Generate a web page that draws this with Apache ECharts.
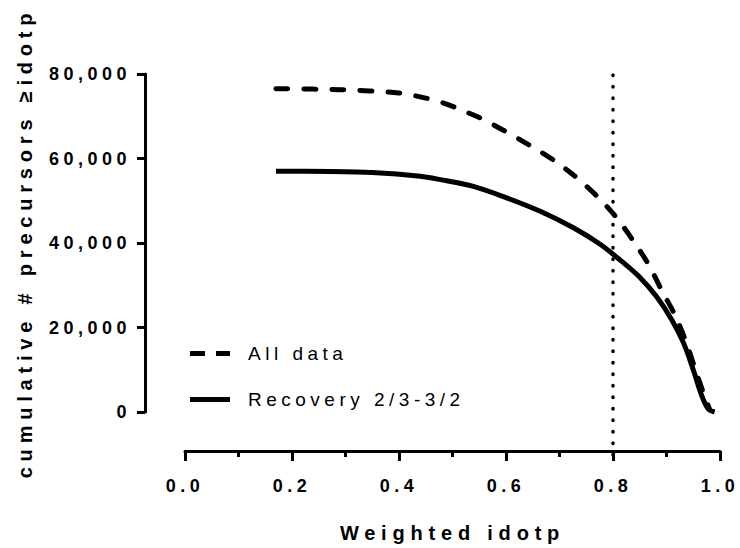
<!DOCTYPE html>
<html>
<head>
<meta charset="utf-8">
<script src="https://cdn.jsdelivr.net/npm/echarts@6/dist/echarts.min.js"></script>
<style>
  html, body { margin: 0; padding: 0; background: #fff; }
  #chart { width: 740px; height: 548px; }
  /* letter spacing, picked by font size */
  #chart text[style*="18px"] { letter-spacing: 4.5px; }
  #chart text[style*="19px"] { letter-spacing: 4.5px; }
  #chart text[style*="20px"] { letter-spacing: 5.8px; }
</style>
</head>
<body>
<div id="chart"></div>
<script>
// All data (dashed)
var allX = [0.17, 0.29, 0.40, 0.45, 0.486, 0.548, 0.595, 0.642, 0.688, 0.729, 0.77, 0.804, 0.838, 0.866, 0.891, 0.916, 0.935, 0.953, 0.969, 0.981];
var allY = [76500, 76300, 75500, 74300, 73000, 69800, 66700, 63300, 59700, 55800, 51100, 46400, 40500, 35000, 28800, 22900, 17100, 10400, 4500, 500];
// Recovery 2/3-3/2 (solid)
var recX = [0.17, 0.27, 0.35, 0.44, 0.477, 0.539, 0.601, 0.664, 0.726, 0.776, 0.813, 0.85, 0.882, 0.91, 0.932, 0.95, 0.966, 0.978, 0.99];
var recY = [57000, 56950, 56700, 55800, 55000, 53400, 50700, 47500, 43600, 39700, 36000, 31900, 27200, 21800, 16300, 10000, 3800, 700, 0];
// cutoff line
var cutoff = 0.8;

var font = '"Liberation Sans", Arial, sans-serif';

function pairs(xs, ys) {
  return xs.map(function (x, i) { return [x, ys[i]]; });
}

var chart = echarts.init(document.getElementById('chart'), null, { renderer: 'svg' });

var option = {
  animation: false,
  textStyle: { fontFamily: font, color: '#000' },
  grid: [
    { left: 185, right: 20, top: 74, bottom: 132 },
    { left: 185, right: 20, top: 68, bottom: 93 }
  ],
  legend: {
    orient: 'vertical',
    left: 185,
    top: 339,
    itemWidth: 40,
    itemHeight: 5,
    itemGap: 27,
    textStyle: { fontFamily: font, fontSize: 19, color: '#000', padding: [0, 0, 0, 13] },
    data: [
      { name: 'All data', icon: 'path://M0,0H15V5H0Z M26,0H40V5H26Z' },
      { name: 'Recovery 2/3-3/2', icon: 'path://M0,0H40V5H0Z' }
    ]
  },
  xAxis: [{
    type: 'value',
    gridIndex: 0,
    min: 0,
    max: 1,
    interval: 0.2,
    offset: 39,
    name: 'Weighted idotp',
    nameLocation: 'middle',
    nameGap: 72,
    nameTextStyle: { fontFamily: font, fontSize: 20, fontWeight: 'bold', color: '#000' },
    axisLine: { onZero: false, lineStyle: { color: '#000', width: 3 } },
    axisTick: { length: 10, lineStyle: { color: '#000', width: 3 } },
    minorTick: { show: true, splitNumber: 2, length: 6, lineStyle: { color: '#000', width: 3 } },
    splitLine: { show: false },
    axisLabel: {
      margin: 26,
      fontFamily: font, fontSize: 18, fontWeight: 'bold', color: '#000',
      formatter: function (v) { return v.toFixed(1); }
    }
  }, {
    type: 'value', gridIndex: 1, min: 0, max: 1, show: false
  }],
  yAxis: [{
    type: 'value',
    gridIndex: 0,
    min: 0,
    max: 80000,
    interval: 20000,
    offset: 40,
    name: 'cumulative # precursors \u2265idotp',
    nameLocation: 'middle',
    nameGap: 110,
    nameTextStyle: { fontFamily: font, fontSize: 20, fontWeight: 'bold', color: '#000' },
    axisLine: { show: true, onZero: false, lineStyle: { color: '#000', width: 3 } },
    axisTick: { show: true, length: 8, lineStyle: { color: '#000', width: 3 } },
    splitLine: { show: false },
    axisLabel: {
      margin: 14,
      fontFamily: font, fontSize: 18, fontWeight: 'bold', color: '#000',
      formatter: function (v) { return v.toLocaleString('en-US'); }
    }
  }, {
    type: 'value', gridIndex: 1, min: 0, max: 1, show: false
  }],
  series: [{
    name: 'All data',
    type: 'line',
    xAxisIndex: 0, yAxisIndex: 0,
    data: pairs(allX, allY),
    smooth: 0.3,
    symbol: 'none',
    color: '#000',
    lineStyle: { color: '#000', width: 5, type: [12, 16], cap: 'round' }
  }, {
    name: 'Recovery 2/3-3/2',
    type: 'line',
    xAxisIndex: 0, yAxisIndex: 0,
    data: pairs(recX, recY),
    smooth: 0.3,
    symbol: 'none',
    color: '#000',
    lineStyle: { color: '#000', width: 5 }
  }, {
    name: 'cutoff',
    type: 'line',
    xAxisIndex: 1, yAxisIndex: 1,
    data: [[cutoff, 0], [cutoff, 1]],
    symbol: 'none',
    silent: true,
    lineStyle: { color: '#000', width: 3.5, type: [0.5, 11], cap: 'round' }
  }]
};

chart.setOption(option);
</script>
</body>
</html>
